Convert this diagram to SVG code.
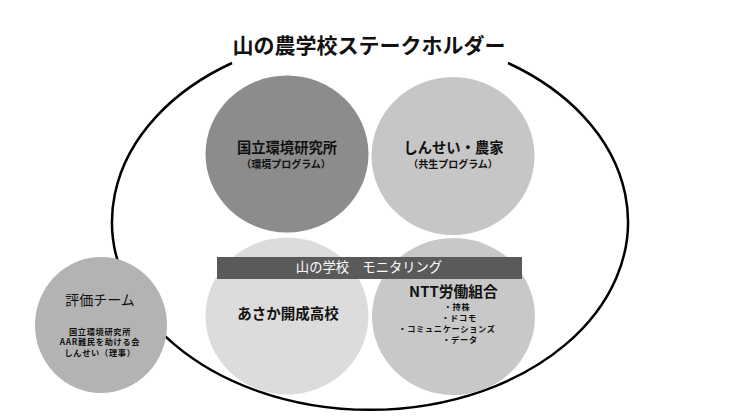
<svg xmlns="http://www.w3.org/2000/svg" width="740" height="416" viewBox="0 0 740 416">
<style>
text{font-family:"Noto Sans CJK JP","Noto Sans",sans-serif;text-anchor:middle;fill:#111}
.b{font-weight:bold}
.s{font-weight:bold;font-size:8.2px;letter-spacing:0.7px}
.bar{fill:#fff}
</style>
<rect width="740" height="416" fill="#fff"/>
<g id="title"><text class="b" x="369" y="53" font-size="21">山の農学校ステークホルダー</text></g>
<g id="boundary"><path d="M 232 63 A 258 188 0 1 0 508 63" fill="none" stroke="#000" stroke-width="2.5"/></g>
<g id="kankyo">
<ellipse cx="287" cy="154" rx="81.5" ry="78.5" fill="#8c8c8c"/>
<text class="b" x="287" y="152.5" font-size="14.3">国立環境研究所</text>
<text class="b" x="286" y="168" font-size="10">（環境プログラム）</text>
</g>
<g id="shinsei">
<ellipse cx="453" cy="156" rx="81.5" ry="79" fill="#c6c6c6"/>
<text class="b" x="453.5" y="152.5" font-size="14.3">しんせい・農家</text>
<text class="b" x="453" y="168" font-size="10">（共生プログラム）</text>
</g>
<g id="asaka">
<ellipse cx="287" cy="316" rx="81.5" ry="78.5" fill="#dcdcdc"/>
<text class="b" x="288" y="318.5" font-size="14.5">あさか開成高校</text>
</g>
<g id="ntt">
<ellipse cx="453.5" cy="316.5" rx="81.5" ry="78.5" fill="#c8c8c8"/>
<text class="b" x="453.5" y="297" font-size="14.8">NTT労働組合</text>
<text class="s" x="457" y="309.5">・持株</text>
<text class="s" x="459" y="320.5">・ドコモ</text>
<text class="s" x="447" y="331.5">・コミュニケーションズ</text>
<text class="s" x="460" y="342.5">・データ</text>
</g>
<g id="monitoring">
<rect x="217" y="257" width="305" height="22" fill="#5a5a5a"/>
<text class="bar" x="369" y="271.5" font-size="13.3">山の学校　モニタリング</text>
</g>
<g id="hyoka">
<ellipse cx="101" cy="325" rx="66" ry="68" fill="#b3b3b3"/>
<text x="100" y="305.3" font-size="14">評価チーム</text>
<text class="s" x="100" y="334.5" letter-spacing="0.4">国立環境研究所</text>
<text class="s" x="100" y="345" letter-spacing="0.4">AAR難民を助ける会</text>
<text class="s" x="100" y="355.5" letter-spacing="0.4">しんせい（理事）</text>
</g>
</svg>
